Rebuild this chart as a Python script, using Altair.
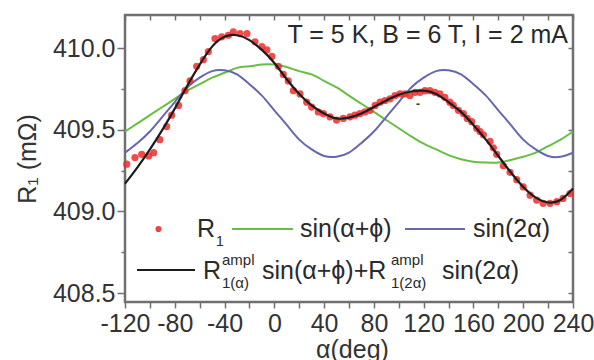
import altair as alt
import pandas as pd

# ---- measured data (R1 vs alpha) ----
alpha_pts = [-118.6, -112, -106.6, -101, -97, -92, -86.5, -82.5, -77, -71.8, -67.8, -62.4, -57, -53,
             -47.7, -42.3, -37, -33, -27.6, -22, -15.5, -10, -6, -2, 3.2, 7.2, 11.2, 15.3, 20.6, 26,
             30, 35.3, 39.4, 44.7, 50, 55.4, 60.8, 64.8, 68.8, 72.8, 76.9, 81, 85, 89, 93, 97, 101,
             105, 109, 113, 117, 121, 125, 129, 133, 137, 141, 143.8, 147.9, 151.9, 155, 158.6, 162.6,
             165.3, 168, 173.3, 176, 178.7, 184, 189.4, 194.8, 200, 205.5, 210.8, 216, 221.5, 227,
             232, 237.6]
r1_pts = [409.29, 409.33, 409.35, 409.34, 409.36, 409.44, 409.52, 409.59, 409.65, 409.74, 409.80,
          409.89, 409.93, 409.98, 410.06, 410.07, 410.08, 410.10, 410.09, 410.09, 410.04, 410.01,
          409.99, 409.95, 409.89, 409.84, 409.80, 409.74, 409.72, 409.67, 409.64, 409.61, 409.60,
          409.58, 409.56, 409.57, 409.58, 409.59, 409.60, 409.61, 409.62, 409.65, 409.67, 409.68,
          409.69, 409.71, 409.72, 409.72, 409.71, 409.73, 409.73, 409.74, 409.74, 409.73, 409.72,
          409.70, 409.67, 409.65, 409.62, 409.60, 409.57, 409.55, 409.51, 409.49, 409.47, 409.43,
          409.39, 409.35, 409.28, 409.24, 409.195, 409.15, 409.10, 409.07, 409.05, 409.05, 409.06,
          409.08, 409.11]

# ---- curves read every 10 degrees ----
curve_alpha = [-120, -110, -100, -90, -80, -70, -60, -50, -40, -30, -20, -10, 0, 10, 20, 30, 40,
               50, 60, 70, 80, 90, 100, 110, 120, 130, 140, 150, 160, 170, 180, 190, 200, 210,
               220, 230, 240]
sin_a_phi = [409.49, 409.54, 409.59, 409.64, 409.69, 409.74, 409.78, 409.82, 409.85, 409.88, 409.89,
             409.90, 409.90, 409.885, 409.86, 409.84, 409.80, 409.76, 409.71, 409.66, 409.61,
             409.56, 409.51, 409.46, 409.415, 409.38, 409.345, 409.32, 409.305, 409.30, 409.30,
             409.315, 409.335, 409.36, 409.40, 409.44, 409.49]
sin_2a = [409.36, 409.42, 409.49, 409.58, 409.67, 409.76, 409.82, 409.86, 409.865, 409.84, 409.78,
          409.71, 409.62, 409.53, 409.44, 409.38, 409.34, 409.335, 409.36, 409.42, 409.49, 409.58,
          409.67, 409.76, 409.82, 409.86, 409.865, 409.84, 409.78, 409.71, 409.62, 409.53, 409.44,
          409.38, 409.34, 409.335, 409.36]
fit_vals = [409.17, 409.27, 409.38, 409.50, 409.63, 409.77, 409.90, 410.01, 410.07, 410.08, 410.05,
            409.99, 409.91, 409.81, 409.72, 409.65, 409.60, 409.57, 409.575, 409.60, 409.64,
            409.68, 409.715, 409.735, 409.74, 409.72, 409.67, 409.61, 409.53, 409.44, 409.34,
            409.24, 409.15, 409.085, 409.055, 409.07, 409.14]

x_ticks = [-120, -100, -80, -60, -40, -20, 0, 20, 40, 60, 80, 100, 120, 140, 160, 180, 200, 220, 240]
y_ticks = [408.5, 408.75, 409.0, 409.25, 409.5, 409.75, 410.0]

pts = pd.DataFrame({"alpha": alpha_pts, "R": r1_pts})
curves = pd.DataFrame({"alpha": curve_alpha, "g": sin_a_phi, "b": sin_2a, "f": fit_vals})

FONT = "Liberation Sans"
FRAME = "#707070"
TXT = "#333333"
RED = "#ee2d2d"
GREEN = "#69bd45"
BLUE = "#6767b0"
BLACK = "#1c1c1c"

xs = alt.Scale(domain=[-120, 240], nice=False, zero=False)
ys = alt.Scale(domain=[408.445, 410.204], nice=False, zero=False)

x_axis = alt.Axis(values=x_ticks, labelExpr="datum.value % 40 === 0 ? '' + datum.value : ''",
                  tickSize=6, tickWidth=1.5, tickColor=FRAME, labelPadding=3, labelFont=FONT,
                  labelFontSize=25, labelColor=TXT, labelOverlap=False, labelFlush=False,
                  domain=False, grid=False, title="α(deg)", titleFont=FONT, titleFontSize=25,
                  titleFontWeight="normal", titleColor=TXT, titleX=227, titleY=55,
                  titleBaseline="alphabetic", titleAlign="center")
y_axis = alt.Axis(values=y_ticks,
                  labelExpr="datum.value % 0.5 === 0 ? format(datum.value, '.1f') : ''",
                  tickSize={"condition": {"test": "datum.value % 0.5 === 0", "value": 8}, "value": 4},
                  tickWidth=1.5, tickColor=FRAME, labelPadding=2, labelFont=FONT, labelFontSize=25,
                  labelColor=TXT, labelOverlap=False, labelFlush=False, domain=False, grid=False,
                  title="R₁ (mΩ)", titleFont=FONT, titleFontSize=25, titleFontWeight="normal",
                  titleColor=TXT, titleX=-90, titleY=143.5, titleAngle=270,
                  titleBaseline="alphabetic", titleAlign="center")

green = alt.Chart(curves).mark_line(color=GREEN, strokeWidth=2, interpolate="natural").encode(
    x=alt.X("alpha:Q", scale=xs, axis=x_axis),
    y=alt.Y("g:Q", scale=ys, axis=y_axis))
blue = alt.Chart(curves).mark_line(color=BLUE, strokeWidth=2, interpolate="natural").encode(
    x=alt.X("alpha:Q", scale=xs, axis=None),
    y=alt.Y("b:Q", scale=ys, axis=None))
red = alt.Chart(pts).mark_circle(color=RED, size=52, opacity=0.85).encode(
    x=alt.X("alpha:Q", scale=xs, axis=None),
    y=alt.Y("R:Q", scale=ys, axis=None))
fit = alt.Chart(curves).mark_line(color=BLACK, strokeWidth=2.2, interpolate="natural").encode(
    x=alt.X("alpha:Q", scale=xs, axis=None),
    y=alt.Y("f:Q", scale=ys, axis=None))

# mirrored inward ticks on top/right
frame_ticks = alt.Chart(curves).mark_point(opacity=0).encode(
    x=alt.X("alpha:Q", scale=xs, axis=alt.Axis(orient="top", values=x_ticks, labels=False,
                                               domain=False, grid=False, tickSize=5, offset=-5,
                                               tickWidth=1.5, tickColor=FRAME, title=None)),
    y=alt.Y("f:Q", scale=ys, axis=alt.Axis(orient="right", values=y_ticks, labels=False,
                                           domain=False, grid=False, tickSize=5, offset=-5,
                                           tickWidth=1.5, tickColor=FRAME, title=None)))

one = alt.Data(values=[{"k": 1}])


def txt(s, x, y, size=25, align="left", color="#2a2a2a"):
    return alt.Chart(one).mark_text(text=s, align=align, baseline="alphabetic", fontSize=size,
                                    font=FONT, color=color).encode(x=alt.value(x), y=alt.value(y))


def seg(x1, x2, y, color, w=2):
    return alt.Chart(one).mark_rule(color=color, strokeWidth=w).encode(
        x=alt.value(x1), x2=alt.value(x2), y=alt.value(y))


legend = [
    alt.Chart(one).mark_circle(color=RED, size=38, opacity=0.9).encode(x=alt.value(33.5), y=alt.value(214)),
    txt("R", 72, 222), txt("1", 91, 231, size=14),
    seg(107, 168, 214, GREEN), txt("sin(α+ϕ)", 175, 222),
    seg(280, 340, 214, BLUE), txt("sin(2α)", 348, 222),
    seg(12, 70, 255, BLACK), txt("R", 78, 264),
    txt("ampl", 97, 250, size=15), txt("1(α)", 97, 273, size=15),
    txt("sin(α+ϕ)+R", 137, 264),
    txt("ampl", 266, 250, size=15), txt("1(2α)", 266, 273, size=15),
    txt("sin(2α)", 317, 264),
    txt("T = 5 K, B = 6 T, I = 2 mA", 443, 28, align="right"),
]

dash = alt.Chart(pd.DataFrame({"alpha": [115.5], "R": [409.66]})).mark_text(
    text="-", fontSize=12, fontWeight="bold", color="#333333").encode(
    x=alt.X("alpha:Q", scale=xs, axis=None), y=alt.Y("R:Q", scale=ys, axis=None))

chart = alt.layer(green, blue, red, fit, frame_ticks, dash, *legend).resolve_axis(
    x="independent", y="independent").properties(
    width=448, height=287,
    padding={"left": 125, "top": 15, "right": 21, "bottom": 58},
    autosize=alt.AutoSizeParams(type="none"),
    background="white",
).configure_view(stroke=FRAME, strokeWidth=2.5)

chart.save("out.html", embed_options={"renderer": "svg", "actions": False})
